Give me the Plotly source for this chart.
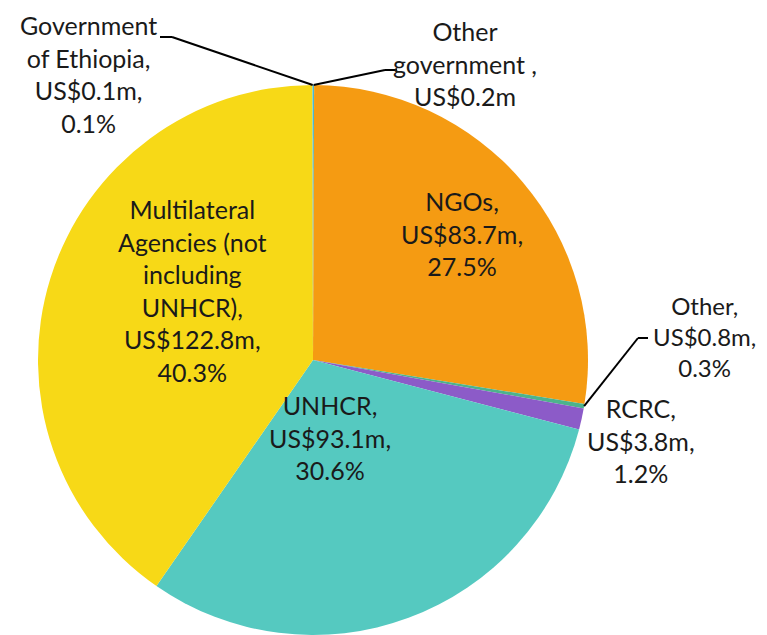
import math
import plotly.graph_objects as go

labels = ["Other government ", "NGOs", "Other", "RCRC", "UNHCR",
          "Multilateral Agencies (not including UNHCR)", "Government of Ethiopia"]
values = [0.2, 83.7, 0.8, 3.8, 93.1, 122.8, 0.1]
colors = ["#4BB8CF", "#F59B12", "#4DB38C", "#8C5BC8", "#55C9C0", "#F7D917", "#5DC3C8"]

# label text blocks (lines as shown)
label_lines = {
    "Other government ": ["Other", "government ,", "US$0.2m"],
    "NGOs": ["NGOs,", "US$83.7m,", "27.5%"],
    "Other": ["Other,", "US$0.8m,", "0.3%"],
    "RCRC": ["RCRC,", "US$3.8m,", "1.2%"],
    "UNHCR": ["UNHCR,", "US$93.1m,", "30.6%"],
    "Multilateral Agencies (not including UNHCR)": ["Multilateral", "Agencies (not", "including", "UNHCR),", "US$122.8m,", "40.3%"],
    "Government of Ethiopia": ["Government", "of Ethiopia,", "US$0.1m,", "0.1%"],
}
# label centres in page pixels (x, y from top)
label_pos = {
    "Other government ": (465, 63),
    "NGOs": (462, 233),
    "Other": (704, 336),
    "RCRC": (641, 440),
    "UNHCR": (330, 438),
    "Multilateral Agencies (not including UNHCR)": (192, 291),
    "Government of Ethiopia": (88, 74),
}
label_size = {"Other": 24}
# leader elbows (page pixels) for outside labels: (elbow point, end point)
leaders = {
    "Other government ": ((385, 70), (397, 70)),
    "Other": ((638, 338), (648, 338)),
    "Government of Ethiopia": ((172, 37), (160, 37)),
}

OFF = 8  # default body margin of the html page
W, H = 767 - OFF, 635 - OFF
cx, cy, R = 313, 360, 275


def px2paper(x, y):
    return (x - OFF) / W, 1 - (y - OFF) / H


x0, y1 = px2paper(cx - R, cy - R)
x1, y0 = px2paper(cx + R, cy + R)

fig = go.Figure(go.Pie(
    labels=labels, values=values, sort=False, direction="clockwise",
    rotation=0, marker=dict(colors=colors, line=dict(width=0)),
    textinfo="none", hoverinfo="label+value+percent",
    domain=dict(x=[x0, x1], y=[max(0, y0), y1]),
    showlegend=False,
))

total = sum(values)
cum = 0
shapes = []
annotations = []
for lab, v in zip(labels, values):
    mid = (cum + v / 2) / total * 2 * math.pi
    cum += v
    ax, ay = px2paper(*label_pos[lab])
    annotations.append(dict(
        x=ax, y=ay, xref="paper", yref="paper",
        text="<br>".join(label_lines[lab]), showarrow=False,
        xanchor="center", yanchor="middle", align="center",
        font=dict(family="Lato, Carlito, sans-serif", size=label_size.get(lab, 25),
                  color="#1a1a1a"),
    ))
    if lab in leaders:
        sx = cx + R * math.sin(mid)
        sy = cy - R * math.cos(mid)
        (ex, ey), (tx, ty) = leaders[lab]
        for p, q in [((sx, sy), (ex, ey)), ((ex, ey), (tx, ty))]:
            a, b = px2paper(*p)
            c, d = px2paper(*q)
            shapes.append(dict(type="line", xref="paper", yref="paper",
                               x0=a, y0=b, x1=c, y1=d,
                               line=dict(color="black", width=2)))

fig.update_layout(
    width=W, height=H, margin=dict(l=0, r=0, t=0, b=0),
    paper_bgcolor="white", plot_bgcolor="white",
    shapes=shapes, annotations=annotations,
)
fig.write_html("out.html")
